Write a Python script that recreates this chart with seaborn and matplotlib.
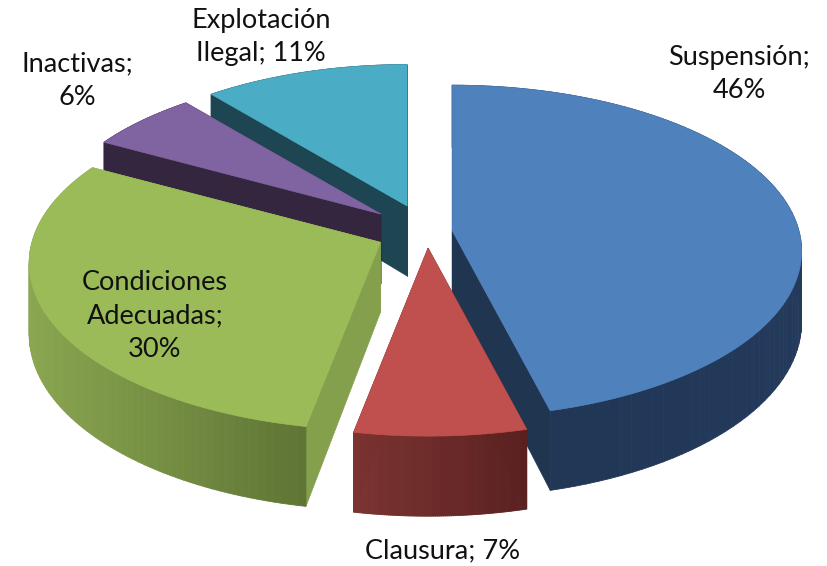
import numpy as np
import matplotlib
matplotlib.use("Agg")
import matplotlib.pyplot as plt
from matplotlib.collections import PolyCollection
import seaborn as sns

# --- data ---
categories = ["Suspensión", "Clausura", "Condiciones Adecuadas", "Inactivas", "Explotación Ilegal"]
percent = [46, 7, 30, 6, 11]
label_texts = ["Suspensión;\n46%", "Clausura; 7%", "Condiciones\nAdecuadas;\n30%", "Inactivas;\n6%", "Explotación\nIlegal; 11%"]

# --- style ---
explode = [0.072, 0.096, 0.145, 0.172, 0.17]
radius = [0.985, 0.99, 0.99, 0.95, 0.955]
top_colors = ["#4f81bd", "#c0504d", "#9bbb59", "#8064a2", "#4bacc6"]
cut_colors = ["#1f3550", "#5c2322", "#84a04c", "#352640", "#1d4552"]
wall_left = ["#1f3552", "#7a3330", "#8aa650", "#352640", "#1d4552"]
wall_right = ["#243a5c", "#5a2020", "#5f7535", "#352640", "#1d4552"]
draw_order = [4, 3, 0, 2, 1]
label_xy = [(739, 74), (443, 551), (155, 316), (77, 81), (261, 37)]

# --- projection parameters (pixel canvas) ---
CX, CY = 427.0, 232.0
A, B, K, DEPTH = 352.0, 166.0, 0.127, 70.0


def project(u, v):
    s = 1.0 / (1.0 + K * v)
    return A * u * s, -B * v * s, s


sns.set_theme(style="white")
plt.rcParams["font.family"] = ["Lato", "DejaVu Sans"]
fig = plt.figure(figsize=(8.27, 5.66), dpi=100, facecolor="white")
ax = fig.add_axes([0, 0, 1, 1])
ax.set_xlim(0, 827)
ax.set_ylim(566, 0)
ax.axis("off")

fractions = np.array(percent, dtype=float) / np.sum(percent)
edges = np.concatenate([[0.0], np.cumsum(fractions)]) * 2 * np.pi

for z, i in enumerate(draw_order):
    t0, t1 = edges[i], edges[i + 1]
    mid = 0.5 * (t0 + t1)
    ox, oy, _ = project(explode[i] * np.sin(mid), explode[i] * np.cos(mid))
    ax0, ay0 = CX + ox, CY + oy

    th = np.linspace(t0, t1, 90)
    px, py, ps = project(radius[i] * np.sin(th), radius[i] * np.cos(th))
    ax_pts = np.column_stack([ax0 + px, ay0 + py])
    drop = DEPTH * ps
    low_pts = np.column_stack([ax_pts[:, 0], ax_pts[:, 1] + drop])
    base = 10 + z * 10

    # cut faces
    for k in (0, -1):
        ax.fill([ax0, ax_pts[k, 0], low_pts[k, 0], ax0],
                [ay0, ax_pts[k, 1], low_pts[k, 1], ay0 + DEPTH],
                color=cut_colors[i], lw=0.5, zorder=base)

    # outer wall, shaded from the screen-left to the screen-right side
    quads = [[ax_pts[j], ax_pts[j + 1], low_pts[j + 1], low_pts[j]] for j in range(len(th) - 1)]
    pal = sns.blend_palette([wall_left[i], wall_right[i]], 256)
    xs = np.array([q[0][0] for q in quads])
    idx = ((xs - xs.min()) / max(np.ptp(xs), 1) * 255).astype(int)
    cols = [pal[n] for n in idx]
    ax.add_collection(PolyCollection(quads, facecolors=cols, edgecolors=cols, linewidths=0.6, zorder=base + 1))

    # top face
    ax.fill(np.r_[ax0, ax_pts[:, 0]], np.r_[ay0, ax_pts[:, 1]],
            color=top_colors[i], lw=0.5, zorder=base + 2)

for txt, (x, y) in zip(label_texts, label_xy):
    ax.text(x, y, txt, ha="center", va="center", fontsize=19.5, color="#111111",
            linespacing=1.42, zorder=100)

fig.savefig("out.png", dpi=100, facecolor="white")
